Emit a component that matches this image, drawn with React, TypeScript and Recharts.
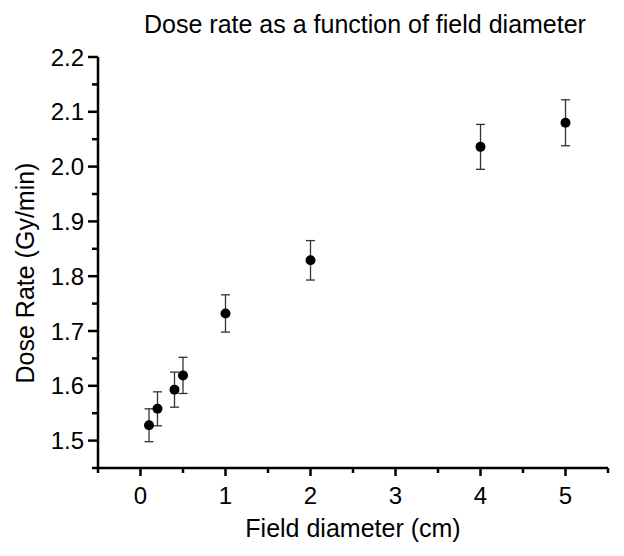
import { ScatterChart, Scatter, XAxis, YAxis, ErrorBar, Label } from "recharts";

const fieldDiameter = [0.1, 0.2, 0.4, 0.5, 1, 2, 4, 5];
const doseRate = [1.528, 1.558, 1.593, 1.619, 1.732, 1.829, 2.036, 2.08];
const doseError = [0.03, 0.031, 0.032, 0.033, 0.034, 0.036, 0.041, 0.042];

const xMajorTicks = [0, 1, 2, 3, 4, 5];
const xMinorTicks = [-0.5, 0.5, 1.5, 2.5, 3.5, 4.5, 5.5];
const yMajorTicks = [1.5, 1.6, 1.7, 1.8, 1.9, 2.0, 2.1, 2.2];
const yMinorTicks = [1.45, 1.55, 1.65, 1.75, 1.85, 1.95, 2.05, 2.15];

const data = fieldDiameter.map((x, i) => ({ x, y: doseRate[i], err: doseError[i] }));

const font = "'Liberation Sans', Arial, sans-serif";
const isMajor = (list: number[], v: number) => list.some((m) => Math.abs(m - v) < 1e-6);

const XTick = (props: any) => {
  const { x, y, payload } = props;
  const major = isMajor(xMajorTicks, payload.value);
  return (
    <g>
      <line x1={x} x2={x} y1={y} y2={y + (major ? 8 : 5)} stroke="#000" strokeWidth={2.5} />
      {major && (
        <text x={x} y={y + 36} textAnchor="middle" fontSize={24} fontFamily={font} fill="#000">
          {payload.value}
        </text>
      )}
    </g>
  );
};

const YTick = (props: any) => {
  const { x, y, payload } = props;
  const major = isMajor(yMajorTicks, payload.value);
  return (
    <g>
      <line x1={x - (major ? 10 : 6)} x2={x} y1={y} y2={y} stroke="#000" strokeWidth={2.5} />
      {major && (
        <text x={x - 14} y={y + 8.5} textAnchor="end" fontSize={24} fontFamily={font} fill="#000">
          {payload.value.toFixed(1)}
        </text>
      )}
    </g>
  );
};

const Dot = (props: any) => <circle cx={props.cx} cy={props.cy} r={5} fill="#000" />;

export default function App() {
  const xTicks = [...xMajorTicks, ...xMinorTicks].sort((a, b) => a - b);
  const yTicks = [...yMajorTicks, ...yMinorTicks].sort((a, b) => a - b);
  return (
    <div style={{ position: "absolute", left: 0, top: 0, width: 624, height: 556, background: "#fff" }}>
      <ScatterChart width={624} height={556} margin={{ top: 57, right: 16, left: 0, bottom: 0 }}>
        <XAxis
          type="number"
          dataKey="x"
          domain={[-0.5, 5.5]}
          ticks={xTicks}
          interval={0}
          tick={<XTick />}
          tickLine={false}
          tickSize={0}
          tickMargin={0}
          height={88}
          axisLine={{ stroke: "#000", strokeWidth: 2.5 }}
        >
          <Label
            value="Field diameter (cm)"
            position="insideBottom"
            offset={19}
            style={{ fontSize: 25, fontFamily: font, fill: "#000" }}
          />
        </XAxis>
        <YAxis
          type="number"
          dataKey="y"
          domain={[1.45, 2.2]}
          ticks={yTicks}
          interval={0}
          tick={<YTick />}
          tickLine={false}
          tickSize={0}
          tickMargin={0}
          width={98}
          axisLine={{ stroke: "#000", strokeWidth: 2.5 }}
        />
        <Scatter data={data} shape={<Dot />} isAnimationActive={false}>
          <ErrorBar dataKey="err" direction="y" width={4.5} stroke="#333" strokeWidth={1.3} />
        </Scatter>
      </ScatterChart>
      <svg width={624} height={556} style={{ position: "absolute", left: 0, top: 0, pointerEvents: "none" }}>
        <text x={365} y={33} textAnchor="middle" fontSize={25} fontFamily={font} fill="#000">
          Dose rate as a function of field diameter
        </text>
        <text
          x={25}
          y={273}
          transform="rotate(-90 25 273)"
          textAnchor="middle"
          dominantBaseline="central"
          fontSize={25}
          fontFamily={font}
          fill="#000"
        >
          Dose Rate (Gy/min)
        </text>
      </svg>
    </div>
  );
}
